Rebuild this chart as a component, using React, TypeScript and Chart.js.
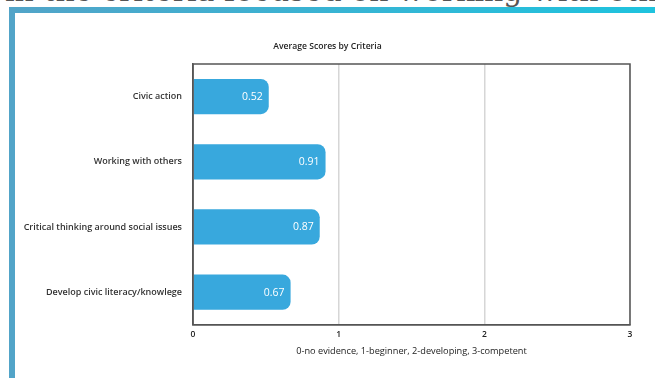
import React, { useEffect, useRef } from 'react';
import { Chart, registerables } from 'chart.js';

Chart.register(...registerables);

const categories = [
  'Civic action',
  'Working with others',
  'Critical thinking around social issues',
  'Develop civic literacy/knowlege',
];
const scores = [0.52, 0.91, 0.87, 0.67];
const xMin = 0;
const xMax = 3;
const xStep = 1;
const chartTitle = 'Average Scores by Criteria';
const xAxisTitle = '0-no evidence, 1-beginner, 2-developing, 3-competent';
const headingText = 'in the criteria focused on working with others';

const FONT = '"Open Sans", "Noto Sans", sans-serif';

const valueLabels = {
  id: 'valueLabels',
  afterDatasetsDraw(chart: any) {
    const { ctx } = chart;
    const meta = chart.getDatasetMeta(0);
    ctx.save();
    ctx.font = `500 10.5px ${FONT}`;
    ctx.fillStyle = '#ffffff';
    ctx.textAlign = 'right';
    ctx.textBaseline = 'middle';
    meta.data.forEach((bar: any, i: number) => {
      ctx.fillText(scores[i].toFixed(2), bar.x - 6, bar.y + 0.5);
    });
    ctx.restore();
  },
};

const plotBox = {
  id: 'plotBox',
  afterDatasetsDraw(chart: any) {
    const { ctx, chartArea } = chart;
    ctx.save();
    ctx.strokeStyle = '#555555';
    ctx.lineWidth = 1.5;
    ctx.strokeRect(chartArea.left, chartArea.top, chartArea.right - chartArea.left, chartArea.bottom - chartArea.top);
    ctx.restore();
  },
};

const centeredTitle = {
  id: 'centeredTitle',
  afterDraw(chart: any) {
    const { ctx } = chart;
    ctx.save();
    ctx.font = `600 8.6px ${FONT}`;
    ctx.fillStyle = '#222222';
    ctx.textAlign = 'center';
    ctx.textBaseline = 'middle';
    ctx.fillText(chartTitle, chart.width / 2, 34);
    ctx.restore();
  },
};

export default function App() {
  const canvasRef = useRef<HTMLCanvasElement | null>(null);

  useEffect(() => {
    if (!canvasRef.current) return;
    const chart = new Chart(canvasRef.current, {
      type: 'bar',
      data: {
        labels: categories,
        datasets: [
          {
            data: scores,
            backgroundColor: '#38a8dd',
            borderRadius: 8,
            borderSkipped: 'start',
            categoryPercentage: 1,
            barPercentage: 0.54,
          },
        ],
      },
      options: {
        indexAxis: 'y',
        responsive: false,
        animation: false,
        layout: { padding: { top: 51, right: 10, bottom: 0, left: 0 } },
        plugins: {
          legend: { display: false },
          tooltip: { enabled: false },
          title: { display: false },
        },
        scales: {
          x: {
            type: 'linear',
            min: xMin,
            max: xMax,
            ticks: {
              stepSize: xStep,
              color: '#222222',
              padding: 5,
              font: { family: FONT, size: 8.5, weight: '600' },
            },
            grid: { color: '#d6d6d6', lineWidth: 1.5, drawTicks: false },
            border: { display: true, color: '#555555', width: 1.5 },
            title: {
              display: true,
              text: xAxisTitle,
              color: '#222222',
              font: { family: FONT, size: 9.2, weight: '500' },
              padding: { top: 1, bottom: 21 },
            },
          },
          y: {
            type: 'category',
            grid: { display: false, drawTicks: false },
            border: { display: true, color: '#555555', width: 1.5 },
            ticks: {
              color: '#333333',
              padding: 11,
              font: { family: FONT, size: 9, weight: '600' },
            },
            afterFit(scale: any) {
              scale.width = 178;
            },
          },
        },
      },
      plugins: [plotBox, valueLabels, centeredTitle],
    });
    return () => chart.destroy();
  }, []);

  return (
    <div
      style={{
        position: 'absolute',
        left: 0,
        top: 0,
        width: 655,
        height: 378,
        overflow: 'hidden',
        background: '#ffffff',
      }}
    >
      <div
        style={{
          position: 'absolute',
          left: 5,
          top: -24,
          whiteSpace: 'nowrap',
          fontFamily: '"DejaVu Serif", serif',
          fontSize: 30,
          lineHeight: '30px',
          color: '#555555',
        }}
      >
        {headingText}
      </div>
      <div
        style={{
          position: 'absolute',
          left: 9,
          top: 7,
          width: 646,
          height: 6,
          background: 'linear-gradient(to right, #52a4c8, #1ec3de)',
        }}
      />
      <div
        style={{
          position: 'absolute',
          left: 9,
          top: 7,
          width: 6,
          height: 371,
          background: '#52a4c8',
        }}
      />
      <canvas
        ref={canvasRef}
        width={625}
        height={365}
        style={{ position: 'absolute', left: 15, top: 13, width: 625, height: 365 }}
      />
    </div>
  );
}
